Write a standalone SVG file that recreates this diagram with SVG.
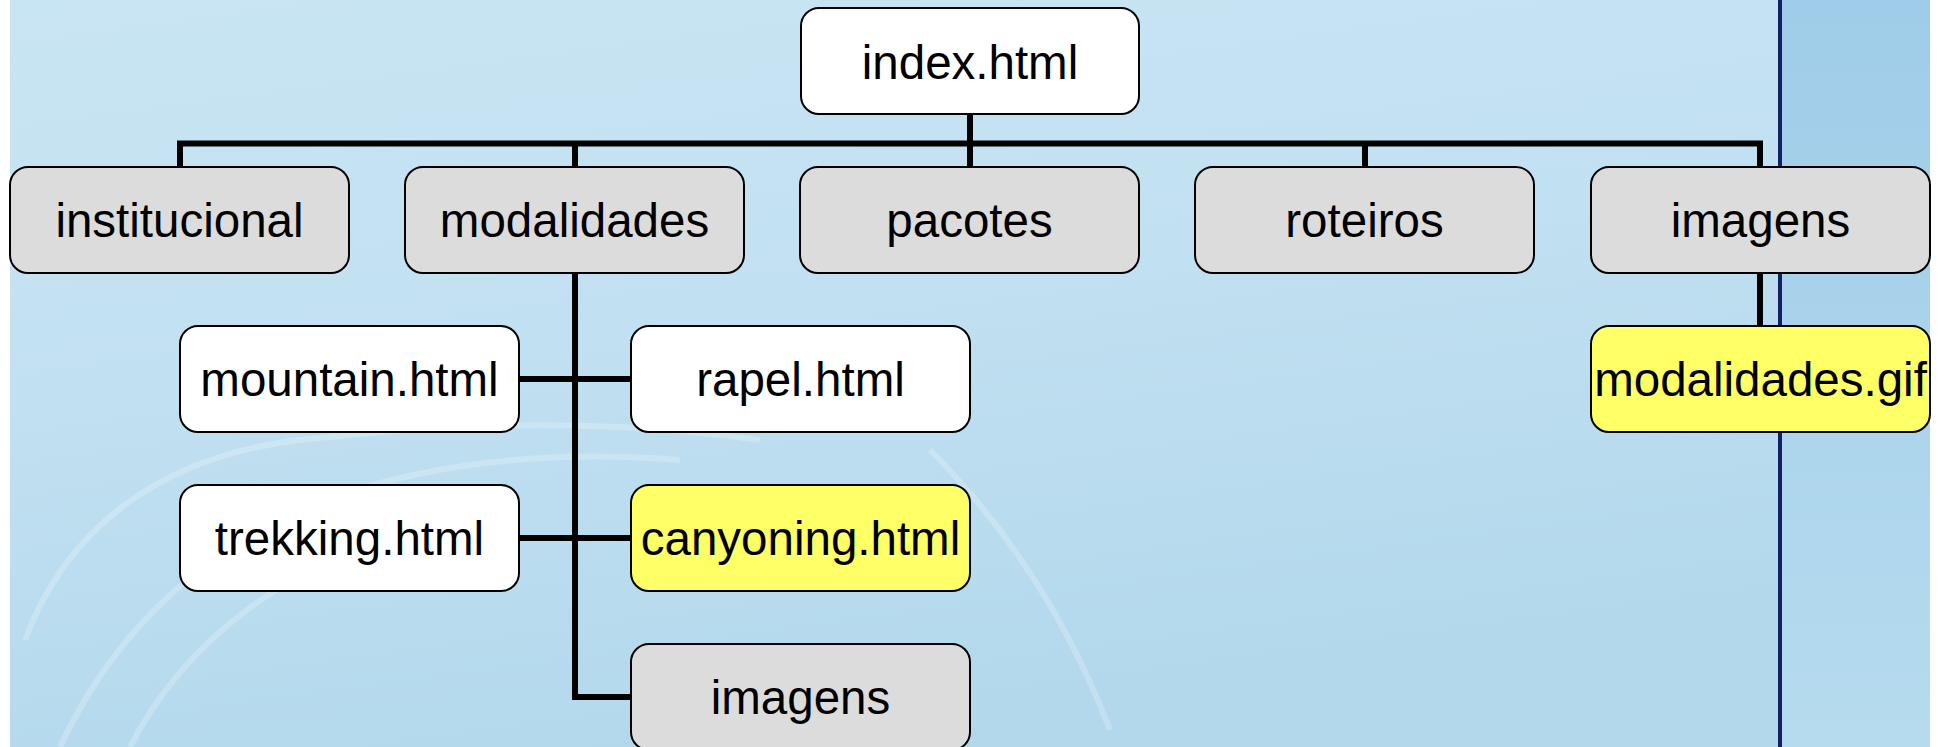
<svg xmlns="http://www.w3.org/2000/svg" width="1946" height="747" viewBox="0 0 1946 747">
<defs>
<linearGradient id="bg" x1="0" y1="0" x2="0.35" y2="1">
<stop offset="0" stop-color="#c9e5f3"/>
<stop offset="0.5" stop-color="#c1e0f1"/>
<stop offset="1" stop-color="#b3d8ec"/>
</linearGradient>
<linearGradient id="strip" x1="0" y1="0" x2="0" y2="1">
<stop offset="0" stop-color="#9fcce8"/>
<stop offset="1" stop-color="#b6dbef"/>
</linearGradient>
<style>
.box{stroke:#000;stroke-width:2;}
.w{fill:#ffffff;}
.g{fill:#dcdcdc;}
.y{fill:#ffff66;}
.t{font-family:"Liberation Sans",Arial,sans-serif;font-size:47.5px;fill:#000;text-anchor:middle;}
.c{fill:none;stroke:#000;stroke-width:6;stroke-linejoin:miter;}
.arc{fill:none;stroke:#ffffff;stroke-opacity:0.22;stroke-width:6;}
</style>
</defs>
<rect x="0" y="0" width="1946" height="747" fill="#ffffff"/>
<rect x="10" y="0" width="1920" height="747" fill="url(#bg)"/>
<rect x="1782" y="0" width="148" height="747" fill="url(#strip)"/>
<rect x="1778" y="0" width="4" height="747" fill="#142066"/>
<g id="background-arcs">
<path class="arc" d="M25 640 C70 520 170 455 300 440 C470 420 620 420 760 440"/>
<path class="arc" d="M60 747 C110 640 190 560 300 510 C420 460 560 450 680 460"/>
<path class="arc" d="M130 747 C180 650 260 590 360 545"/>
<path class="arc" d="M930 450 C990 510 1060 600 1110 730"/>
</g>
<g id="connectors">
<path class="c" d="M180 167 V143.5 H1760 V167"/>
<path class="c" d="M970 114 V167"/>
<path class="c" d="M575 143.5 V167"/>
<path class="c" d="M1365 143.5 V167"/>
<path class="c" d="M575 273 V697 H631"/>
<path class="c" d="M519 379 H631"/>
<path class="c" d="M519 538 H631"/>
<path class="c" d="M1760 273 V326"/>
</g>
<g id="node-index">
<rect class="box w" x="801" y="8" width="338" height="106" rx="18"/>
<text class="t" x="970" y="79">index.html</text>
</g>
<g id="node-institucional">
<rect class="box g" x="10" y="167" width="339" height="106" rx="18"/>
<text class="t" x="179.5" y="237">institucional</text>
</g>
<g id="node-modalidades">
<rect class="box g" x="405" y="167" width="339" height="106" rx="18"/>
<text class="t" x="574.5" y="237">modalidades</text>
</g>
<g id="node-pacotes">
<rect class="box g" x="800" y="167" width="339" height="106" rx="18"/>
<text class="t" x="969.5" y="237">pacotes</text>
</g>
<g id="node-roteiros">
<rect class="box g" x="1195" y="167" width="339" height="106" rx="18"/>
<text class="t" x="1364.5" y="237">roteiros</text>
</g>
<g id="node-imagens">
<rect class="box g" x="1591" y="167" width="339" height="106" rx="18"/>
<text class="t" x="1760.5" y="237">imagens</text>
</g>
<g id="node-mountain">
<rect class="box w" x="180" y="326" width="339" height="106" rx="18"/>
<text class="t" x="349.5" y="396">mountain.html</text>
</g>
<g id="node-rapel">
<rect class="box w" x="631" y="326" width="339" height="106" rx="18"/>
<text class="t" x="800.5" y="396">rapel.html</text>
</g>
<g id="node-trekking">
<rect class="box w" x="180" y="485" width="339" height="106" rx="18"/>
<text class="t" x="349.5" y="555">trekking.html</text>
</g>
<g id="node-canyoning">
<rect class="box y" x="631" y="485" width="339" height="106" rx="18"/>
<text class="t" x="800.5" y="555">canyoning.html</text>
</g>
<g id="node-imagens-sub">
<rect class="box g" x="631" y="644" width="339" height="106" rx="18"/>
<text class="t" x="800.5" y="714">imagens</text>
</g>
<g id="node-modalidades-gif">
<rect class="box y" x="1591" y="326" width="339" height="106" rx="18"/>
<text class="t" x="1760.5" y="396">modalidades.gif</text>
</g>
</svg>
